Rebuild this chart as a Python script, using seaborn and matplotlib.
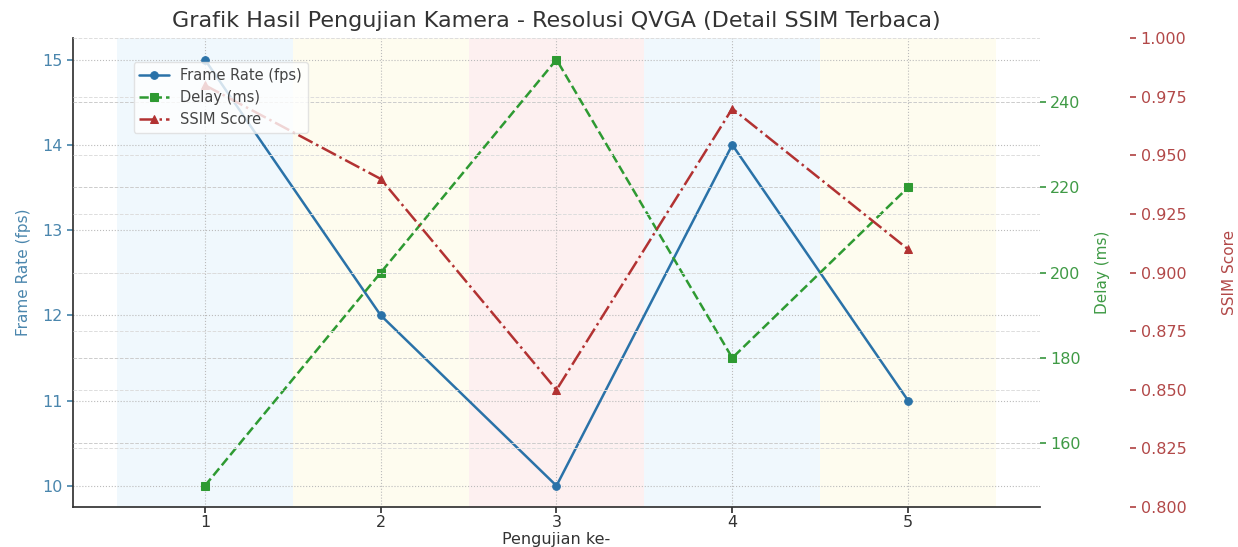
import matplotlib
matplotlib.use("Agg")
import matplotlib.pyplot as plt
import seaborn as sns
import numpy as np

# ---- data ----
pengujian = [1, 2, 3, 4, 5]
frame_rate = [15, 12, 10, 14, 11]
delay_ms = [150, 200, 250, 180, 220]
ssim = [0.98, 0.94, 0.85, 0.97, 0.91]
band_colors = ["#f0f8fd", "#fefcef", "#fdf0f0", "#f0f8fd", "#fefcef"]

c_fps = "#2a72a8"
c_delay = "#2e9a32"
c_ssim = "#b23232"
c_fps_txt = "#4a86ad"
c_delay_txt = "#3f9a45"
c_ssim_txt = "#b24848"

sns.set_theme(style="white")
plt.rcParams['font.family'] = ['DejaVu Sans']

fig = plt.figure(figsize=(12.38, 5.47), dpi=100)
ax = fig.add_axes([0.059, 0.073, 0.781, 0.857])

# background bands
for xi, col in zip(pengujian, band_colors):
    ax.axvspan(xi - 0.5, xi + 0.5, color=col, zorder=0, lw=0)

sns.lineplot(x=pengujian, y=frame_rate, ax=ax, color=c_fps, marker="o",
             markersize=5.5, markeredgecolor=c_fps, linewidth=1.8, linestyle="-",
             label="Frame Rate (fps)", legend=False)
ax.set_ylim(9.75, 15.25)
ax.set_xlim(0.25, 5.75)
ax.set_xticks(pengujian)
ax.set_yticks([10, 11, 12, 13, 14, 15])
ax.grid(True, linestyle=":", color="#bbbbbb", linewidth=0.8)
ax.set_axisbelow(True)

ax2 = ax.twinx()
sns.lineplot(x=pengujian, y=delay_ms, ax=ax2, color=c_delay, marker="s",
             markersize=5.5, markeredgecolor=c_delay, linewidth=1.8, linestyle="--",
             label="Delay (ms)", legend=False)
ax2.set_ylim(145, 255)
ax2.set_yticks([160, 180, 200, 220, 240])
ax2.grid(True, axis="y", linestyle="--", color="#cccccc", linewidth=0.7)

ax3 = ax.twinx()
ax3.spines["right"].set_position(("outward", 65))
sns.lineplot(x=pengujian, y=ssim, ax=ax3, color=c_ssim, marker="^",
             markersize=5.5, markeredgecolor=c_ssim, linewidth=1.8, linestyle="-.",
             label="SSIM Score", legend=False)
ax3.set_ylim(0.8, 1.0)
ax3.set_yticks([0.800, 0.825, 0.850, 0.875, 0.900, 0.925, 0.950, 0.975, 1.000])
ax3.set_yticklabels([f"{v:.3f}" for v in ax3.get_yticks()])
ax3.grid(True, axis="y", linestyle="--", color="#dddddd", linewidth=0.7)

for a in (ax, ax2, ax3):
    for s in ("top", "right"):
        a.spines[s].set_visible(False)
    if a is not ax:
        a.spines["left"].set_visible(False)
        a.spines["bottom"].set_visible(False)
ax.spines["left"].set_color("#333333")
ax.spines["bottom"].set_color("#333333")

ax.tick_params(axis="y", colors=c_fps_txt, labelsize=11.5, length=4, left=True)
ax.tick_params(axis="x", colors="#333333", labelsize=11.5, length=4, bottom=True, pad=2)
ax2.tick_params(axis="y", colors=c_delay_txt, labelsize=11.5, length=4, right=True)
ax3.tick_params(axis="y", colors=c_ssim_txt, labelsize=11.5, length=4, right=True)

ax.set_xlabel("Pengujian ke-", fontsize=11.5, color="#333333", labelpad=1)
ax.set_ylabel("Frame Rate (fps)", fontsize=11, color=c_fps_txt, labelpad=8)
ax2.set_ylabel("Delay (ms)", fontsize=11, color=c_delay_txt, labelpad=10)
ax3.set_ylabel("SSIM Score", fontsize=11, color=c_ssim_txt, labelpad=26)
ax.set_title("Grafik Hasil Pengujian Kamera - Resolusi QVGA (Detail SSIM Terbaca)",
             fontsize=16, color="#333333", pad=8)

handles = []
labels = []
for a in (ax, ax2, ax3):
    h, l = a.get_legend_handles_labels()
    handles += h
    labels += l
leg = ax3.legend(handles, labels, loc="upper left", bbox_to_anchor=(0.055, 0.965),
                 fontsize=10.5, frameon=True, framealpha=0.8, edgecolor="#dddddd",
                 labelcolor="#444444")

fig.savefig("out.png", dpi=100)
